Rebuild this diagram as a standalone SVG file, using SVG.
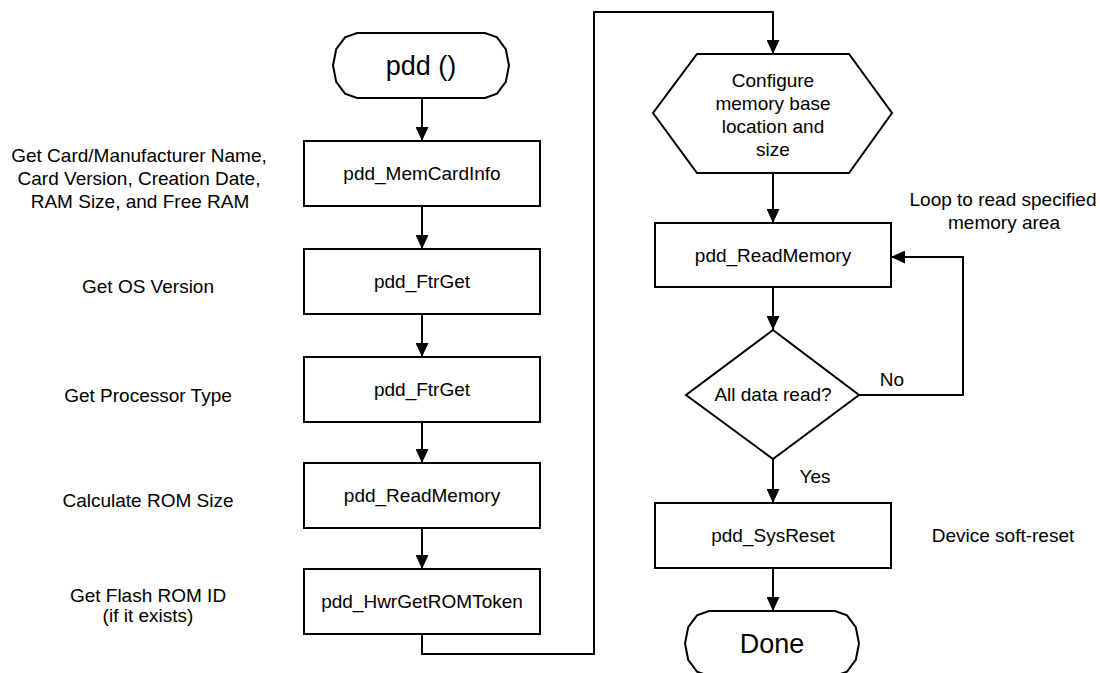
<svg xmlns="http://www.w3.org/2000/svg" width="1100" height="673" viewBox="0 0 1100 673">
<style>
.shape{fill:#fff;stroke:#000;stroke-width:2}
.conn{fill:none;stroke:#000;stroke-width:2}
text{font-family:"Liberation Sans",Arial,sans-serif;font-size:19px;fill:#000;text-anchor:middle}
.big{font-size:27px}
</style>
<defs>
<marker id="arr" markerUnits="userSpaceOnUse" markerWidth="14" markerHeight="13" viewBox="0 0 14 13" refX="14" refY="6.5" orient="auto">
<path d="M0,0 L14,6.5 L0,13 z" fill="#000"/>
</marker>
</defs>
<rect width="1100" height="673" fill="#fff"/>
<g id="connectors">
<line class="conn" x1="422" y1="98" x2="422" y2="141" marker-end="url(#arr)"/>
<line class="conn" x1="422" y1="206" x2="422" y2="249" marker-end="url(#arr)"/>
<line class="conn" x1="422" y1="314" x2="422" y2="357" marker-end="url(#arr)"/>
<line class="conn" x1="422" y1="422" x2="422" y2="463" marker-end="url(#arr)"/>
<line class="conn" x1="422" y1="528" x2="422" y2="569" marker-end="url(#arr)"/>
<polyline class="conn" points="422,634 422,654 594,654 594,12 773,12 773,54" marker-end="url(#arr)"/>
<line class="conn" x1="773" y1="173" x2="773" y2="223" marker-end="url(#arr)"/>
<line class="conn" x1="773" y1="287" x2="773" y2="330" marker-end="url(#arr)"/>
<line class="conn" x1="773" y1="459" x2="773" y2="503" marker-end="url(#arr)"/>
<polyline class="conn" points="859,395 963,395 963,257 891,257" marker-end="url(#arr)"/>
<line class="conn" x1="773" y1="568" x2="773" y2="611" marker-end="url(#arr)"/>
<text x="892" y="386">No</text>
<text x="815" y="483">Yes</text>
</g>
<g id="start">
<polygon class="shape" points="357,33 485,33 497,37.4 505.8,49.25 509,65.5 505.8,81.75 497,93.6 485,98 357,98 345,93.6 336.2,81.75 333,65.5 336.2,49.25 345,37.4"/>
<text class="big" x="421" y="75">pdd ()</text>
</g>
<g id="memcardinfo">
<rect class="shape" x="304" y="141" width="236" height="65"/>
<text x="422" y="180">pdd_MemCardInfo</text>
</g>
<g id="ftrget1">
<rect class="shape" x="304" y="249" width="236" height="65"/>
<text x="422" y="288">pdd_FtrGet</text>
</g>
<g id="ftrget2">
<rect class="shape" x="304" y="357" width="236" height="65"/>
<text x="422" y="396">pdd_FtrGet</text>
</g>
<g id="readmemory1">
<rect class="shape" x="304" y="463" width="236" height="65"/>
<text x="422" y="502">pdd_ReadMemory</text>
</g>
<g id="hwrgetromtoken">
<rect class="shape" x="304" y="569" width="236" height="65"/>
<text x="422" y="608">pdd_HwrGetROMToken</text>
</g>
<g id="labels-left">
<text x="139" y="162">Get Card/Manufacturer Name,</text>
<text x="139" y="185">Card Version, Creation Date,</text>
<text x="140" y="208">RAM Size, and Free RAM</text>
<text x="148" y="293">Get OS Version</text>
<text x="148" y="402">Get Processor Type</text>
<text x="148" y="507">Calculate ROM Size</text>
<text x="148" y="602">Get Flash ROM ID</text>
<text x="148" y="622">(if it exists)</text>
</g>
<g id="configure">
<polygon class="shape" points="697,54 849,54 892,113 849,173 697,173 653,113"/>
<text x="773" y="87">Configure</text>
<text x="773" y="110">memory base</text>
<text x="773" y="133">location and</text>
<text x="773" y="156">size</text>
</g>
<g id="readmemory2">
<rect class="shape" x="655" y="223" width="236" height="64"/>
<text x="773" y="262">pdd_ReadMemory</text>
</g>
<g id="loop-note">
<text x="1003" y="206">Loop to read specified</text>
<text x="1004" y="229">memory area</text>
</g>
<g id="decision">
<polygon class="shape" points="773,330 859,395 773,459 686,395"/>
<text x="773" y="401">All data read?</text>
</g>
<g id="sysreset">
<rect class="shape" x="655" y="503" width="236" height="65"/>
<text x="773" y="542">pdd_SysReset</text>
<text x="1003" y="542">Device soft-reset</text>
</g>
<g id="done">
<polygon class="shape" points="709,611 835,611 847,615.4 855.8,627.25 859,643.5 855.8,659.75 847,671.6 835,676 709,676 697,671.6 688.2,659.75 685,643.5 688.2,627.25 697,615.4"/>
<text class="big" x="772" y="653">Done</text>
</g>
</svg>
